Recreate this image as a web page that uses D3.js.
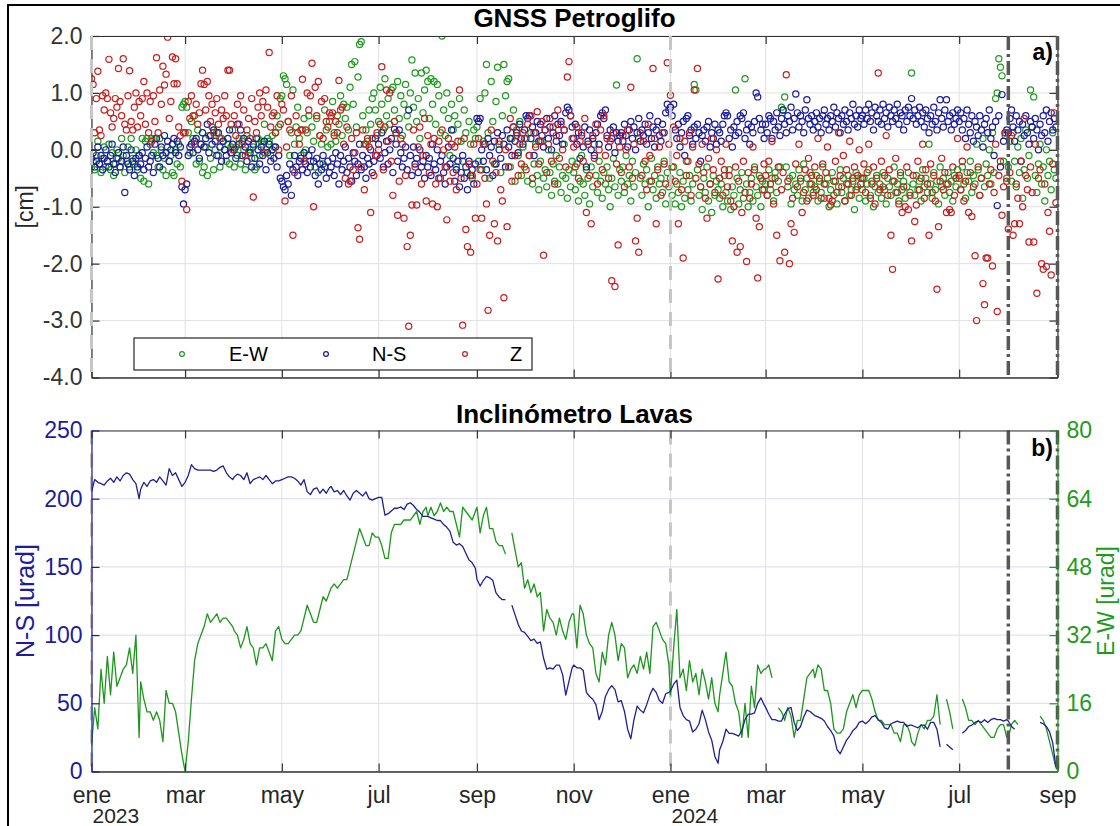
<!DOCTYPE html>
<html>
<head>
<meta charset="utf-8">
<script src="https://cdn.jsdelivr.net/npm/d3@7"></script>
<style>
  body { margin: 0; background: #fff; }
  svg { display: block; }
  text { font-family: "Liberation Sans", Arial, Helvetica, sans-serif; }
</style>
</head>
<body>
<svg id="chart" width="1120" height="826"></svg>
<script>
// ---------------------------------------------------------------------------
// GNSS Petroglifo: daily displacement in cm, one inner array per month
// (Jan 2023 ... Aug 2024), value i belongs to day i+1 of that month.
// ---------------------------------------------------------------------------
const ewGnss = [
  [-0.3,-0.2,-0.35,-0.1,0.15,-0.25,-0.4,-0.15,0.05,-0.3,-0.2,0.1,-0.35,-0.05,-0.45,-0.25,0.0,-0.15,-0.3,0.2,-0.1,-0.4,-0.2,0.05,-0.3,0.2,-0.15,-0.25,0.0,-0.35,-0.1],
  [-0.5,0.2,-0.55,0.15,0.2,-0.6,0.1,0.2,-0.05,0.2,-0.1,-0.3,0.2,0.0,-0.35,-0.15,-0.45,0.05,-0.2,-0.1,-0.4,-0.45,0.0,-0.25,0.1,-0.3,0.75,0.8],
  [0.85,0.75,0.3,-0.05,0.5,0.2,0.6,-0.25,0.35,-0.2,0.1,-0.4,-0.3,0.05,-0.45,0.25,-0.15,0.4,-0.35,0.0,0.3,-0.1,-0.3,0.2,0.15,0.0,-0.2,0.1,-0.25,0.05,0.35],
  [-0.3,0.05,-0.1,0.2,-0.25,0.15,0.0,-0.35,0.25,-0.05,0.0,-0.15,0.05,-0.35,-0.3,0.2,-0.1,0.15,0.1,0.45,0.0,0.2,0.15,-0.1,0.25,0.05,0.3,0.6,0.4,0.9],
  [0.95,1.3,1.25,1.15,0.5,-0.1,0.3,1.05,0.1,0.4,0.75,0.2,-0.1,0.35,0.55,0.0,0.3,0.6,-0.2,0.4,0.15,-0.3,0.55,-0.4,0.25,0.1,-0.25,0.7,0.35,0.05,0.5],
  [0.1,0.85,0.3,0.15,0.6,0.45,0.95,0.25,0.8,0.55,0.75,0.35,1.1,1.5,0.8,1.55,0.4,1.28,1.85,1.9,0.6,0.1,0.35,0.15,0.7,0.45,0.9,1.0,0.7,0.25],
  [0.5,1.1,0.8,0.35,1.25,0.6,0.9,0.45,1.05,1.1,0.7,0.3,1.2,0.55,0.95,0.25,0.8,1.15,0.6,0.4,1.0,1.58,0.75,1.35,0.5,0.9,0.2,1.35,0.65,1.05,1.4],
  [1.2,0.55,1.25,0.8,1.2,0.45,1.15,0.95,0.3,2.0,0.7,0.25,1.0,0.55,-0.1,0.8,0.35,0.6,-0.3,0.45,0.9,0.15,-0.2,0.7,0.3,-0.4,0.5,0.1,-0.5,0.35,0.2],
  [0.4,-0.2,0.9,-0.35,0.15,1.0,1.5,0.3,-0.5,1.2,0.5,-0.25,0.85,1.45,0.1,-0.4,0.6,1.5,0.95,1.2,1.25,-0.3,0.2,0.7,-0.55,0.35,-0.1,0.5,-0.45,0.05],
  [-0.3,0.2,-0.55,-0.1,0.3,-0.6,-0.25,0.1,-0.45,-0.7,-0.2,0.15,-0.5,-0.35,-0.65,0.0,-0.4,-0.8,-0.25,-0.55,-0.1,-0.6,-0.3,-0.75,-0.45,0.1,-0.5,-0.85,-0.35,-0.65,-0.2],
  [-0.4,-0.7,-0.25,-0.9,-0.55,-0.1,-0.6,-0.8,-0.35,-0.5,-0.95,-0.3,-0.65,0.1,-0.45,-0.75,-0.2,-0.55,-0.85,-0.4,-0.6,-0.3,-0.7,-1.0,-0.5,-0.15,-0.65,1.14,-0.8,-0.35],
  [-0.55,-0.3,-0.75,-0.1,-0.6,-0.45,-0.9,-0.2,-0.65,-0.4,1.6,0.2,-0.5,-0.8,-0.25,-0.6,-0.35,-1.0,-0.55,-0.15,-0.7,-0.45,-0.85,-0.3,-0.6,-0.5,-0.75,-0.2,-0.95,-0.4,-0.65],
  [-0.5,-0.8,-0.3,-0.95,-0.6,-0.75,-0.4,-1.0,-0.55,-0.85,-0.2,-0.7,-0.45,-0.9,-0.6,1.15,1.05,-0.35,-0.8,-0.65,-1.05,-0.5,-0.75,-0.3,-0.9,-0.6,-1.1,-0.45,-0.8,-0.55,-0.7],
  [-0.85,-0.6,-1.0,-0.45,-0.75,-0.9,-0.35,-1.05,-0.65,-0.8,1.05,-0.5,-0.95,-0.7,-0.4,-0.85,1.25,-0.6,-1.0,-0.75,-0.5,-0.9,-0.3,-0.65,-0.8,-0.45,-1.0,-0.55,-0.7],
  [-0.6,-0.8,-0.35,-0.7,-0.5,-0.9,-0.4,-0.75,-0.55,-0.3,0.75,0.7,0.93,-0.3,-0.65,-0.5,-0.95,-0.45,-0.7,-0.6,-0.8,-0.35,-0.55,-0.9,-0.25,-0.7,-0.5,-0.85,-0.4,-0.6,-0.75],
  [-0.65,-0.45,-0.9,-0.55,-0.75,-0.3,-0.85,-0.6,-0.5,-1.0,-0.7,-0.4,-0.8,-0.55,-0.95,-0.65,-0.35,-0.75,-0.5,-0.9,-0.6,-0.45,-0.8,-0.7,-0.55,-1.05,-0.4,-0.65,-0.85,-0.5],
  [-0.7,-0.5,-0.9,-0.6,-0.35,-0.8,-0.55,-1.0,-0.65,-0.45,-0.75,-0.6,-0.85,-0.4,-0.7,-0.95,-0.5,-0.65,-0.8,-0.55,-0.3,-0.75,-0.6,-0.9,-0.45,-0.7,-0.55,-0.85,-0.65,-0.4,-0.75],
  [1.35,-0.6,-0.8,-0.45,-0.7,-0.55,-0.9,-0.35,-0.65,-0.5,-0.75,0.1,-0.6,-0.85,-0.4,-0.7,-0.55,-0.95,-0.3,-0.65,-0.5,-0.8,-0.6,-0.4,-0.75,-0.55,-0.9,-0.45,-0.65,-0.35],
  [-0.5,-0.7,-0.3,-0.6,-0.85,-0.4,-0.55,-0.2,-0.75,-0.45,-0.6,0.1,-0.35,-0.8,-0.5,0.2,-0.65,-0.25,-0.45,0.0,-0.6,0.3,-0.4,0.9,1.0,1.6,1.45,1.3,-0.2,0.25,-0.5],
  [-0.3,0.15,-0.55,0.3,-0.2,-0.65,0.05,-0.4,0.2,-0.85,-0.35,0.35,-0.5,-0.1,1.05,0.4,0.93,-0.45,-0.75,-0.25,0.1,-0.6,-0.3,-0.9,0.0,-0.45,-0.2,-0.7,0.3,-0.35,-0.5]
];

const nsGnss = [
  [-0.15,-0.05,-0.3,-0.2,0.05,-0.25,-0.1,-0.35,-0.15,0.0,-0.2,-0.3,-0.1,0.1,-0.25,-0.4,-0.15,-0.05,-0.3,-0.2,0.05,-0.75,-0.1,-0.25,-0.35,0.0,-0.2,-0.45,-0.15,-0.3,-0.1],
  [-0.25,-0.05,-0.35,-0.15,0.05,-0.3,-0.2,-0.1,-0.4,0.1,0.2,-0.15,-0.3,0.05,-0.1,0.25,-0.05,0.15,-0.2,0.0,0.1,0.2,-0.05,0.15,-0.1,0.05,-0.65,-0.95],
  [-0.7,-0.6,-0.1,0.05,0.1,-0.05,0.15,0.2,0.0,-0.15,0.1,0.3,0.05,0.2,0.45,-0.05,0.25,0.1,0.35,0.15,-0.1,0.3,0.05,-0.2,0.15,0.0,-0.1,0.2,0.35,-0.05,0.1],
  [0.0,-0.15,0.45,0.1,0.35,-0.1,0.2,0.05,-0.2,0.15,-0.05,-0.3,0.1,-0.15,0.2,0.0,-0.25,0.05,-0.1,0.15,-0.35,-0.05,0.1,-0.2,0.0,-0.15,0.05,-0.3,-0.1,-0.5],
  [-0.55,-0.65,-0.7,-0.45,-0.6,-0.25,-0.8,-0.35,-0.1,-0.3,-0.45,-0.2,-0.15,-0.35,-0.05,-0.25,-0.4,-0.1,-0.3,0.0,-0.2,-0.45,-0.15,-0.6,-0.25,-0.35,-0.1,-0.3,-0.5,-0.2,-0.4],
  [-0.3,-0.15,-0.45,-0.05,-0.25,-0.6,-0.1,-0.35,-0.2,0.05,-0.4,-0.15,-0.3,-0.55,-0.05,-0.2,-0.45,-0.25,0.1,-0.35,-0.1,-0.3,-0.5,-0.15,-0.25,0.0,-0.4,-0.2,0.2,-0.1],
  [0.1,-0.15,0.3,-0.3,-0.05,0.15,-0.25,0.0,0.2,-0.4,0.36,0.1,-0.2,0.35,-0.05,-0.3,-0.15,0.05,-0.35,0.7,-0.1,-0.45,0.05,-0.25,-0.15,-0.4,0.0,-0.3,-0.2,-0.5,-0.1],
  [-0.3,-0.15,-0.45,0.1,-0.25,-0.35,0.0,-0.5,-0.2,-0.1,-0.4,-0.6,-0.3,0.05,-0.25,0.35,-0.15,-0.55,-0.35,-0.2,-0.65,-0.4,-0.1,-0.5,-0.3,-0.7,-0.2,-0.45,-0.35,-0.6,-0.25],
  [0.55,0.5,0.55,0.0,-0.2,0.1,-0.35,0.2,-0.1,0.05,-0.45,0.15,-0.25,0.3,0.0,-0.15,0.25,0.1,-0.3,0.35,0.05,0.2,-0.1,0.4,0.15,0.3,-0.05,0.45,0.2,0.1],
  [0.35,0.6,0.55,0.6,0.2,0.4,-0.1,0.3,0.5,0.15,0.45,0.25,0.05,0.35,0.55,0.2,0.4,0.0,0.3,0.6,0.15,0.45,0.25,0.5,0.1,0.35,0.65,0.75,0.7,0.6,0.4],
  [0.2,0.45,0.1,0.3,-0.15,0.25,0.05,0.4,-0.3,0.15,0.35,0.0,0.2,-0.1,0.3,0.45,0.1,0.6,0.65,0.55,0.7,0.25,0.05,0.35,0.2,0.4,-0.05,0.3,0.15,0.25],
  [0.3,0.15,0.45,0.25,0.05,0.35,0.5,0.2,0.4,0.0,0.3,0.55,0.15,0.35,0.25,0.45,0.1,0.3,0.6,0.2,0.4,0.05,0.35,0.5,0.25,0.15,0.45,0.3,0.65,0.8,0.7],
  [0.75,0.6,0.8,0.35,0.2,0.45,0.05,0.3,0.5,-0.1,0.55,0.6,0.25,0.35,0.1,0.4,0.2,0.45,0.3,-0.2,0.25,0.35,0.15,0.4,0.5,0.05,0.3,0.2,0.45,0.1,0.35],
  [0.3,0.15,0.45,0.6,0.65,0.6,0.2,0.35,0.05,0.4,0.25,0.5,0.3,0.6,0.55,0.65,0.2,0.35,0.45,0.1,0.4,0.3,0.5,1.0,0.93,0.55,0.35,0.45,0.2],
  [0.45,0.3,0.6,0.55,0.2,0.5,0.35,0.65,0.4,0.25,0.55,0.7,0.45,0.3,0.6,0.5,0.75,0.35,0.55,0.98,0.65,0.4,0.6,0.5,0.3,0.7,0.88,0.55,0.45,0.6,0.35],
  [0.5,0.65,0.4,0.55,0.3,0.6,0.7,0.45,0.55,0.35,0.6,0.5,0.75,0.4,0.65,0.55,0.3,0.6,0.45,0.7,0.5,0.35,0.65,0.55,0.8,0.45,0.6,0.4,0.7,0.55],
  [0.6,0.45,0.7,0.55,0.8,0.5,0.65,0.35,0.75,0.6,0.5,0.7,0.45,0.8,0.55,0.65,0.4,0.75,0.6,0.5,0.7,0.55,0.8,0.45,0.65,0.6,0.35,0.7,0.5,0.75,0.6],
  [0.9,0.55,0.7,0.45,0.6,0.75,0.5,0.65,0.4,0.7,0.55,0.3,0.6,0.45,0.75,0.5,0.35,0.65,0.88,0.55,0.4,0.7,0.88,0.5,0.6,0.35,0.65,0.45,0.55,0.7],
  [0.5,0.65,0.35,0.55,0.2,0.7,0.45,0.3,0.6,0.15,0.5,0.4,0.25,0.6,0.35,0.05,0.45,0.55,0.3,0.7,0.2,0.4,-0.1,0.5,-0.98,0.6,-0.3,0.97,0.15,0.3,0.35],
  [0.3,0.55,0.7,0.4,0.15,0.6,0.35,0.5,-0.2,0.45,0.25,0.6,0.3,0.1,0.5,0.4,0.2,0.55,0.35,0.0,0.45,0.25,0.6,0.3,0.7,0.15,0.5,0.65,0.35,0.55,0.4]
];

const zGnss = [
  [1.25,1.15,0.3,0.9,1.38,0.35,0.25,0.95,0.7,1.0,0.9,1.59,0.65,0.4,0.55,0.9,0.75,1.43,0.85,0.6,1.6,0.45,0.35,0.95,1.39,0.5,0.35,0.75,1.0,0.4,0.85],
  [0.6,0.9,1.2,0.45,1.0,0.3,0.85,0.15,0.95,0.5,1.62,0.3,1.05,0.8,1.47,1.14,1.33,1.98,0.55,0.85,1.63,1.16,1.6,1.16,0.4,0.25,-0.55,0.3],
  [0.3,-1.05,0.85,0.55,0.95,0.6,0.1,0.8,0.45,0.65,1.16,1.4,1.15,0.7,1.2,0.95,0.5,0.8,0.3,0.65,0.9,0.45,0.2,0.7,0.55,0.95,0.6,1.4,1.4,0.45,0.0],
  [0.6,0.25,0.8,0.45,0.95,0.1,0.7,-0.1,0.35,0.55,0.2,0.9,-0.83,0.5,0.3,0.75,1.0,0.6,0.85,-0.05,1.05,0.75,1.71,0.4,0.6,0.65,0.3,0.95,0.0,0.45],
  [0.8,0.7,-0.9,0.05,0.5,0.35,0.95,-1.5,-0.4,0.6,0.3,0.1,0.35,1.24,-0.2,0.35,1.0,0.7,0.95,1.52,-1.0,1.1,0.6,1.2,0.25,0.85,0.2,0.9,0.5,0.4,0.65],
  [0.6,0.65,0.25,0.5,0.3,1.22,0.7,0.75,0.1,-0.5,0.4,-0.6,-0.55,0.2,-0.35,-0.05,0.3,-1.37,-1.57,-0.3,0.35,-0.7,0.1,0.2,0.05,-1.1,0.2,-0.45,-0.1,0.3],
  [0.0,0.45,1.46,-0.35,0.4,1.05,0.15,1.0,-0.2,-0.8,0.5,0.3,-1.15,-0.55,0.2,0.1,-1.2,-0.45,-1.7,-3.1,-1.5,-0.97,0.35,-0.3,-0.97,0.05,0.4,-0.6,-0.1,0.55,-0.9],
  [0.25,-0.4,0.1,-0.95,0.2,-0.6,-1.0,0.15,-0.5,0.35,0.0,-0.3,-1.23,0.2,-0.55,0.1,-0.4,0.05,-0.7,0.15,1.05,-0.5,-3.08,0.2,-1.4,-1.7,-0.25,-1.8,-0.45,0.1,-1.2],
  [-0.6,0.2,-0.35,-1.2,0.1,-0.5,-0.95,-2.82,-1.5,0.35,-0.2,-1.3,-0.4,-1.6,0.15,-0.7,-0.9,-2.6,0.0,-1.35,-0.3,0.55,-0.55,0.4,-0.1,0.25,-0.45,0.1,-0.25,0.3],
  [0.2,-0.35,0.45,-0.1,0.6,-0.5,0.3,0.05,0.67,-0.25,0.15,0.5,-1.85,0.35,-0.4,0.1,0.55,-0.2,0.4,-0.6,0.25,0.7,-0.15,0.45,0.0,0.35,-0.3,1.28,1.55,0.6,0.2],
  [0.05,-0.3,0.4,-0.5,0.15,0.3,-0.2,0.55,-1.1,0.1,-0.45,-1.3,0.25,-0.15,0.45,-0.6,0.0,0.35,-0.35,0.6,-0.1,0.2,-0.5,0.15,-2.3,0.3,-2.4,-0.25,-1.67,0.05],
  [-0.4,0.25,-0.65,0.0,0.35,-0.3,1.1,-0.5,0.1,-1.6,-1.2,-1.8,0.3,-0.45,0.15,-0.2,-0.7,0.45,-0.1,-0.55,1.43,0.2,-1.3,-0.35,0.05,-0.8,0.3,-0.25,-0.6,1.53,0.1],
  [0.96,-0.3,0.4,-0.55,-0.1,-1.3,0.2,-0.7,-1.9,0.15,-0.45,-0.2,0.3,-0.8,0.05,1.05,-0.5,1.43,-0.25,-0.65,0.1,-0.4,-0.85,-1.2,-0.15,-0.6,0.2,-0.35,-0.75,0.0,-2.27],
  [-0.5,-0.2,-0.8,-0.35,0.1,-0.65,-0.45,-0.9,-1.6,-1.0,-0.3,-1.8,-0.55,-1.7,-1.1,-0.2,-0.75,-1.96,-0.4,-0.85,-0.6,0.05,-0.35,-1.2,-2.25,-1.35,-0.5,-0.7,-0.25],
  [-0.45,-0.8,-0.2,-0.6,0.15,-0.95,-0.5,-1.5,-0.3,-1.95,-0.7,-0.4,-1.8,1.32,-0.55,-2.0,-1.3,-0.85,-1.45,-0.25,-0.65,0.1,-0.5,-1.1,-0.75,-0.35,-0.9,-0.15,-0.6,-0.45,-0.8],
  [-0.3,-0.7,0.2,-0.5,-0.85,-0.25,-0.6,-0.4,0.05,-0.85,-0.97,-0.9,-0.55,-0.2,-0.75,0.3,-0.45,-0.65,-0.1,-0.9,-0.35,-0.6,0.15,-0.8,-0.5,-0.3,-0.7,-0.45,0.0,-0.6],
  [-0.5,-0.25,-0.75,-0.4,0.1,-0.85,-0.6,-0.3,-0.95,-0.5,1.35,-0.7,-0.2,-0.65,-0.45,0.25,-0.8,-0.35,-1.5,-2.1,-0.55,-0.15,-0.75,-0.95,-0.4,-1.1,-0.65,-1.0,-0.3,-1.05,-0.8],
  [-1.6,-0.45,-1.26,-0.97,-0.2,-0.7,-0.5,0.1,-0.85,-0.35,-0.6,-1.5,-0.25,-0.75,-0.45,-0.9,-2.45,-1.35,-0.55,-0.15,-0.7,-0.4,-1.1,-0.6,-1.05,-1.1,-0.3,-0.8,-0.5,0.2],
  [-0.45,-0.7,-0.2,-0.9,-0.55,0.05,-1.1,-0.4,-1.17,-0.65,-1.86,-3.0,-0.3,-0.8,-0.5,-2.35,-2.72,-1.9,-1.9,-0.6,-0.35,-2.04,-0.75,0.1,-2.84,-0.45,-0.2,-1.15,-0.65,0.3,-0.55],
  [-1.39,-0.4,0.25,-1.5,-1.3,-0.6,-0.85,-1.3,-0.2,-1.0,0.55,-0.45,-0.7,-1.62,-0.3,-0.75,-1.62,0.1,-2.52,-0.5,-0.35,-2.0,-2.1,-0.6,-2.05,-1.1,-1.43,-2.2,-0.25,0.65,-0.93]
];

// ---------------------------------------------------------------------------
// Inclinómetro Lavas: tilt in microradians, every second day of each month
// (days 1, 3, 5, ...), null where the record has a gap.
// ---------------------------------------------------------------------------
const nsTilt = [
  [205,214,212,211,210,213,215,212,216,213,217,219,218,214,211,200],
  [207,212,209,213,214,212,216,213,210,222,217,219,214,209],
  [212,217,225,222,221,221,221,221,221,220,221,223,224,219,216,214],
  [216,218,217,214,219,211,214,215,216,214,217,214,211,213,213],
  [214,215,216,216,215,213,210,214,205,203,207,208,204,207,204,208],
  [209,205,206,203,206,202,199,204,206,204,202,205,200,199,200],
  [201,201,188,189,191,193,193,194,192,196,197,195,192,190,187,187],
  [187,186,185,184,184,181,179,176,168,166,167,165,160,155,153,149],
  [141,136,140,143,142,140,131,128,126,126,null,122,115,108,103],
  [102,99,96,97,94,95,83,75,76,75,78,78,71,56,66,76],
  [78,76,76,74,58,55,53,49,38,44,55,60,63,60,51],
  [52,44,31,24,38,48,45,43,49,56,61,58,52,50,57,58],
  [59,64,67,47,41,38,37,29,31,35,45,38,29,23,11,6],
  [16,22,31,28,28,27,26,30,38,42,42,43,50,54,49],
  [47,42,38,38,37,37,42,46,47,36,30,33,40,45,44,42],
  [41,40,39,37,33,30,26,16,13,18,23,26,30,32,36],
  [37,35,37,40,41,38,36,32,31,35,36,37,36,36,33,34],
  [34,33,32,34,34,31,36,36,31,18,null,20,18,16,null],
  [null,28,30,33,34,36,37,36,38,36,38,39,38,38,37,38],
  [37,33,31,null,null,null,null,null,null,null,36,35,33,29,21,3]
];

const ewTilt = [
  [6,15,10,24,16,27,18,28,20,22,24,25,29,23,32,8],
  [21,17,14,14,12,14,12,7,19,16,16,14,9,4],
  [0,7,17,26,30,32,34,37,35,36,37,35,36,36,35,34],
  [33,32,29,31,34,30,29,25,29,29,30,28,26,33,34],
  [31,30,30,31,32,32,33,36,39,37,35,35,38,41,40,42],
  [43,44,43,44,45,45,48,51,54,57,55,53,53,56,55],
  [55,53,50,50,56,58,58,58,59,59,59,60,61,58,61,62],
  [60,62,60,61,63,61,62,61,61,58,55,62,61,60,59,61],
  [62,56,60,62,57,57,54,53,53,51,null,56,52,48,49],
  [43,45,42,44,41,42,33,38,36,35,32,36,33,31,35,37],
  [37,29,39,37,32,30,29,23,21,28,25,32,35,32,26],
  [30,29,22,24,25,23,27,24,28,23,34,35,33,31,30,25],
  [18,29,38,22,24,19,26,21,23,18,24,21,17,22,16,14],
  [18,23,28,21,20,16,14,8,16,8,20,15,25,23,24],
  [24,25,22,null,15,14,12,15,13,8,12,12,17,22,23,24],
  [22,25,24,19,19,16,10,9,9,10,14,16,18,15,18],
  [19,19,19,17,14,12,12,11,11,11,9,9,7,11,11,9],
  [7,6,9,11,10,12,12,13,18,11,null,17,14,10,null],
  [null,17,15,12,12,11,12,11,10,9,8,8,10,11,11,8],
  [8,11,12,11,null,null,null,null,null,null,13,12,10,7,4,1]
];

// axis ticks and labels
const monthNames = ["ene","feb","mar","abr","may","jun","jul","ago","sep","oct","nov","dic"];
const gnssTicks = [-4, -3, -2, -1, 0, 1, 2];
const nsTiltTicks = [0, 50, 100, 150, 200, 250];
const ewTiltTicks = [0, 16, 32, 48, 64, 80];
// reference dates marked with vertical lines
const lightMarks = [new Date(2023, 0, 1), new Date(2024, 0, 1)];
const darkMarks = [new Date(2024, 7, 1), new Date(2024, 8, 1)];

// ---------------------------------------------------------------------------
const firstYear = 2023;
function toDaily(byMonth, step) {
  const out = [];
  byMonth.forEach((vals, mi) => {
    const y = firstYear + Math.floor(mi / 12), m = mi % 12;
    vals.forEach((v, i) => out.push({ date: new Date(y, m, 1 + i * step), v }));
  });
  return out;
}

const C = {
  axis: "#333333", grid: "#e1e1e1", gridBlue: "#dadaee",
  green: "#1f9a1f", blue: "#1c1c9c", red: "#c81e1e",
  lineBlue: "#1f1f96", lineGreen: "#1c961c",
  light: "#c6c6c6", dark: "#585858"
};
const FONT = '"Liberation Sans", Arial, Helvetica, sans-serif';
const TICK_FS = 23;

const svg = d3.select("#chart");
svg.append("rect").attr("width", 1120).attr("height", 826).attr("fill", "#fff");
svg.append("path").attr("d", "M8,826V5H1120").attr("fill", "none")
  .attr("stroke", "#000").attr("stroke-width", 2);

const L = 91.5, R = 1057.5;
const P1 = { top: 36, bottom: 377.5 };
const P2 = { top: 430.5, bottom: 771.5 };

const x = d3.scaleTime().domain([new Date(2023, 0, 1), new Date(2024, 8, 1)]).range([L, R]);
const xTicks = d3.timeMonth.every(2).range(x.domain()[0], d3.timeDay.offset(x.domain()[1], 1));
const yG = d3.scaleLinear().domain([-4, 2]).range([P1.bottom, P1.top]);
const yNS = d3.scaleLinear().domain([0, 250]).range([P2.bottom, P2.top]);
const yEW = d3.scaleLinear().domain([0, 80]).range([P2.bottom, P2.top]);

const defs = svg.append("defs");
[["clip1", P1], ["clip2", P2]].forEach(([id, p]) => {
  defs.append("clipPath").attr("id", id).append("rect")
    .attr("x", L).attr("y", p.top).attr("width", R - L).attr("height", p.bottom - p.top);
});

function vGrid(g, p) {
  g.selectAll("line.vg").data(xTicks).join("line").attr("class", "vg")
    .attr("x1", d => x(d)).attr("x2", d => x(d)).attr("y1", p.top).attr("y2", p.bottom)
    .attr("stroke", C.grid).attr("stroke-width", 1);
}
function hGrid(g, scale, ticks, color) {
  g.selectAll("line.hg").data(ticks).join("line").attr("class", "hg")
    .attr("x1", L).attr("x2", R).attr("y1", d => scale(d)).attr("y2", d => scale(d))
    .attr("stroke", color).attr("stroke-width", 1);
}
function marks(g, p, dates, color, width, dash) {
  g.append("g").selectAll("line").data(dates).join("line")
    .attr("x1", d => x(d)).attr("x2", d => x(d)).attr("y1", p.top).attr("y2", p.bottom)
    .attr("stroke", color).attr("stroke-width", width).attr("stroke-dasharray", dash);
}
function styleAxis(g, color, size) {
  g.attr("font-family", FONT).attr("font-size", size);
  g.selectAll("path, line").attr("stroke", color).attr("stroke-width", 1.2);
  g.selectAll("text").attr("fill", color);
}

// ------------------------------ panel a -----------------------------------
const g1 = svg.append("g");
vGrid(g1, P1);
hGrid(g1, yG, gnssTicks, C.grid);

const plot1 = g1.append("g").attr("clip-path", "url(#clip1)");
const series = [
  { name: "E-W", data: toDaily(ewGnss, 1), color: C.green },
  { name: "N-S", data: toDaily(nsGnss, 1), color: C.blue },
  { name: "Z", data: toDaily(zGnss, 1), color: C.red }
];
series.forEach(s => {
  plot1.append("g").selectAll("circle").data(s.data.filter(d => d.v != null)).join("circle")
    .attr("cx", d => x(d.date)).attr("cy", d => yG(d.v)).attr("r", 3.1)
    .attr("fill", "none").attr("stroke", s.color).attr("stroke-width", 1.2);
});

g1.append("g").attr("transform", `translate(0,${P1.bottom})`)
  .call(d3.axisBottom(x).tickValues(xTicks).tickSizeInner(-8).tickSizeOuter(0).tickFormat(""))
  .call(g => styleAxis(g, C.axis, TICK_FS)).call(g => g.select("path").attr("stroke-width", 1.6));
g1.append("g").attr("transform", `translate(0,${P1.top})`)
  .call(d3.axisTop(x).tickValues(xTicks).tickSizeInner(-8).tickSizeOuter(0).tickFormat(""))
  .call(g => styleAxis(g, C.axis, TICK_FS));
g1.append("g").attr("transform", `translate(${L},0)`)
  .call(d3.axisLeft(yG).tickValues(gnssTicks).tickSizeInner(-8).tickSizeOuter(0).tickPadding(9)
    .tickFormat(d => d.toFixed(1)))
  .call(g => styleAxis(g, C.axis, TICK_FS));
g1.append("g").attr("transform", `translate(${R},0)`)
  .call(d3.axisRight(yG).tickValues(gnssTicks).tickSizeInner(-8).tickSizeOuter(0).tickFormat(""))
  .call(g => styleAxis(g, C.axis, TICK_FS));

marks(g1, P1, lightMarks, C.light, 3, "14,9");
marks(g1, P1, darkMarks, C.dark, 3.5, "14,4,3,4");

svg.append("text").attr("x", (L + R) / 2).attr("y", 27).attr("text-anchor", "middle")
  .attr("font-size", 26).attr("font-weight", "bold").attr("fill", "#000").text("GNSS Petroglifo");
svg.append("text").attr("x", 1053).attr("y", 60).attr("text-anchor", "end")
  .attr("font-size", 23).attr("font-weight", "bold").attr("fill", "#000").text("a)");
svg.append("text").attr("transform", `translate(33,${(P1.top + P1.bottom) / 2}) rotate(-90)`)
  .attr("text-anchor", "middle").attr("font-size", 23).attr("fill", "#262626").text("[cm]");

// legend
const lg = svg.append("g");
lg.append("rect").attr("x", 134).attr("y", 338).attr("width", 398).attr("height", 32)
  .attr("fill", "#fff").attr("stroke", "#262626").attr("stroke-width", 1.2);
const legendPos = [{ mx: 182, tx: 229 }, { mx: 326, tx: 372 }, { mx: 465, tx: 510 }];
series.forEach((s, i) => {
  lg.append("circle").attr("cx", legendPos[i].mx).attr("cy", 354).attr("r", 2.4)
    .attr("fill", "none").attr("stroke", s.color).attr("stroke-width", 1.2);
  lg.append("text").attr("x", legendPos[i].tx).attr("y", 361).attr("font-size", 20)
    .attr("fill", "#000").text(s.name);
});

// ------------------------------ panel b -----------------------------------
const g2 = svg.append("g");
vGrid(g2, P2);
hGrid(g2, yNS, nsTiltTicks, C.gridBlue);
marks(g2, P2, lightMarks, C.light, 3, "14,9");

const plot2 = g2.append("g").attr("clip-path", "url(#clip2)");
const ewLine = d3.line().defined(d => d.v != null).x(d => x(d.date)).y(d => yEW(d.v));
const nsLine = d3.line().defined(d => d.v != null).x(d => x(d.date)).y(d => yNS(d.v));
plot2.append("path").datum(toDaily(ewTilt, 2)).attr("d", ewLine)
  .attr("fill", "none").attr("stroke", C.lineGreen).attr("stroke-width", 1.3).attr("stroke-linejoin", "round");
plot2.append("path").datum(toDaily(nsTilt, 2)).attr("d", nsLine)
  .attr("fill", "none").attr("stroke", C.lineBlue).attr("stroke-width", 1.3).attr("stroke-linejoin", "round");
marks(g2, P2, darkMarks, C.dark, 3.5, "14,4,3,4");

g2.append("g").attr("transform", `translate(0,${P2.bottom})`)
  .call(d3.axisBottom(x).tickValues(xTicks).tickSizeInner(-8).tickSizeOuter(0)
    .tickFormat(d => monthNames[d.getMonth()]))
  .call(g => styleAxis(g, C.axis, TICK_FS)).call(g => g.select("path").attr("stroke-width", 1.6))
  .call(g => g.selectAll("text").attr("dy", null).attr("y", 31.5).attr("fill", "#262626"));
g2.append("g").attr("transform", `translate(0,${P2.top})`)
  .call(d3.axisTop(x).tickValues(xTicks).tickSizeInner(-8).tickSizeOuter(0).tickFormat(""))
  .call(g => styleAxis(g, C.axis, TICK_FS));
g2.append("g").attr("transform", `translate(${L},0)`)
  .call(d3.axisLeft(yNS).tickValues(nsTiltTicks).tickSizeInner(-8).tickSizeOuter(0).tickPadding(9))
  .call(g => styleAxis(g, C.blue, TICK_FS));
g2.append("g").attr("transform", `translate(${R},0)`)
  .call(d3.axisRight(yEW).tickValues(ewTiltTicks).tickSizeInner(-8).tickSizeOuter(0).tickPadding(9))
  .call(g => styleAxis(g, C.green, TICK_FS));

// year under each January tick
svg.append("g").selectAll("text").data(xTicks.filter(d => d.getMonth() === 0)).join("text")
  .attr("x", d => x(d) + 1).attr("y", 823).attr("font-size", 21).attr("fill", "#262626")
  .text(d => d.getFullYear());

svg.append("text").attr("x", (L + R) / 2).attr("y", 423).attr("text-anchor", "middle")
  .attr("font-size", 26).attr("font-weight", "bold").attr("fill", "#000").text("Inclinómetro Lavas");
svg.append("text").attr("x", 1053).attr("y", 456).attr("text-anchor", "end")
  .attr("font-size", 23).attr("font-weight", "bold").attr("fill", "#000").text("b)");
svg.append("text").attr("transform", `translate(34,${(P2.top + P2.bottom) / 2}) rotate(-90)`)
  .attr("text-anchor", "middle").attr("font-size", 25).attr("fill", C.blue).text("N-S [urad]");
svg.append("text").attr("transform", `translate(1114,${(P2.top + P2.bottom) / 2}) rotate(-90)`)
  .attr("text-anchor", "middle").attr("font-size", 23).attr("fill", C.green).text("E-W [urad]");
</script>
</body>
</html>
